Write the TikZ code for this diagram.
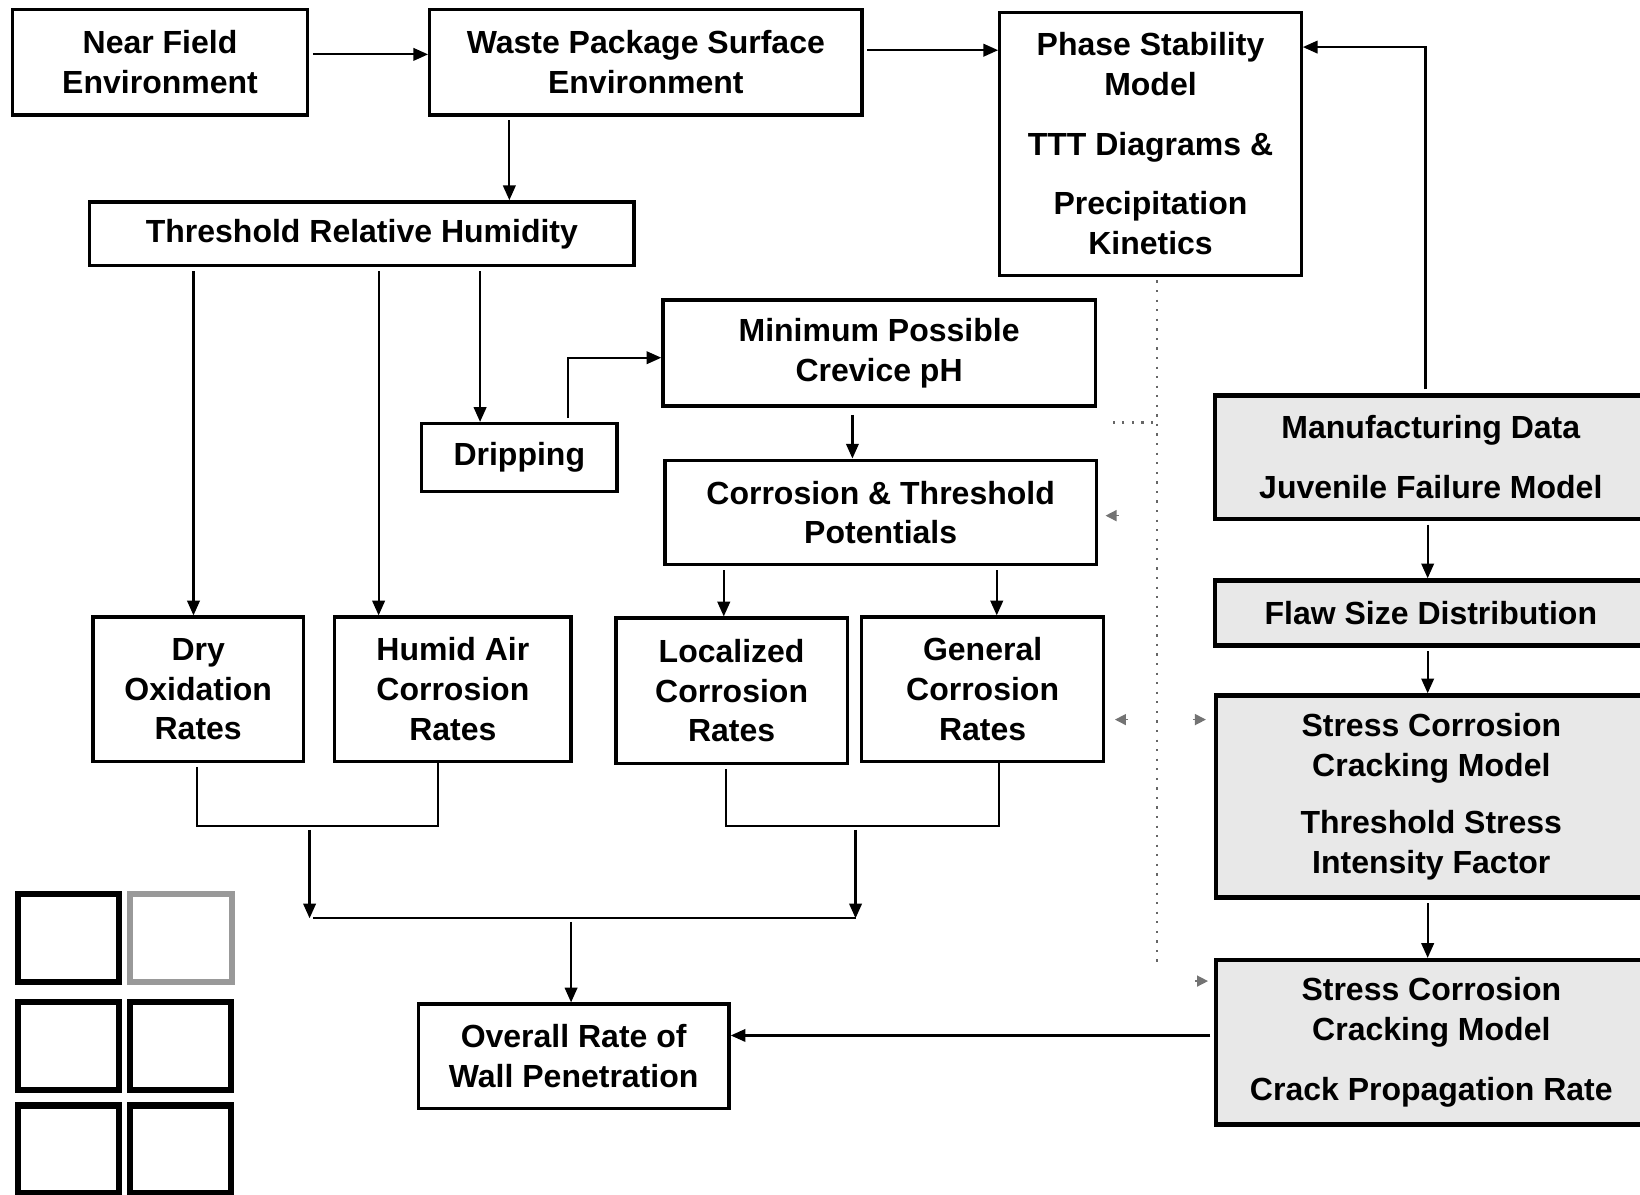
\documentclass[tikz,border=0pt]{standalone}
\usepackage{fontspec}
\setmainfont{Liberation Sans}
\usetikzlibrary{arrows.meta,positioning}

\begin{document}
\begin{tikzpicture}[
    x = 0.01cm, y = -0.01cm, % one unit per pixel, y going down
    > = {Triangle[length=4pt,width=3.4pt]}, % arrow head style
    shorten < = 1pt, % small gap at the start of a link
    semithick % line style
    ]

    \tikzset{box/.style={
    draw = black,
    line width = 0.9pt,
    fill = white,
    inner sep = 0pt,
    align = center,
    font = \fontsize{8.7}{10.8}\selectfont\bfseries
    }}
    \tikzset{shadebox/.style={box, fill = black!9, line width = 1.2pt}}
    \tikzset{legendbox/.style={draw = black, line width = 1.7pt}}

    \useasboundingbox (0,0) rectangle (1568,1142);

    % left and middle part
    \node[box, minimum width=2.82cm, minimum height=1.01cm] (nfe) at (153,59.5) {Near Field\\Environment};
    \node[box, minimum width=4.13cm, minimum height=1.01cm] (wps) at (617.5,59.5) {Waste Package Surface\\Environment};
    \node[box, minimum width=2.88cm, minimum height=2.51cm] (psm) at (1100,137.5) {Phase Stability\\Model\\[5.4pt]TTT Diagrams \&\\[5.4pt]Precipitation\\Kinetics};
    \node[box, minimum width=5.20cm, minimum height=0.61cm] (trh) at (346,223.5) {Threshold Relative Humidity};
    \node[box, minimum width=4.13cm, minimum height=1.01cm] (mpc) at (840.5,337.5) {Minimum Possible\\Crevice pH};
    \node[box, minimum width=1.87cm, minimum height=0.65cm] (drp) at (496.5,437.5) {Dripping};
    \node[box, minimum width=4.12cm, minimum height=1.00cm] (cnt) at (842,490) {Corrosion \& Threshold\\Potentials};
    \node[box, minimum width=2.01cm, minimum height=1.38cm] (dox) at (189.5,659) {Dry\\Oxidation\\Rates};
    \node[box, minimum width=2.26cm, minimum height=1.38cm] (hac) at (433,659) {Humid Air\\Corrosion\\Rates};
    \node[box, minimum width=2.21cm, minimum height=1.39cm] (lcr) at (699.5,660.5) {Localized\\Corrosion\\Rates};
    \node[box, minimum width=2.31cm, minimum height=1.38cm] (gcr) at (939.5,659) {General\\Corrosion\\Rates};
    \node[box, minimum width=2.97cm, minimum height=1.00cm] (orw) at (548.5,1010) {Overall Rate of\\Wall Penetration};

    % right column
    \node[shadebox, minimum width=4.12cm, minimum height=1.18cm] (mfd) at (1368,437) {Manufacturing Data\\[5.4pt]Juvenile Failure Model};
    \node[shadebox, minimum width=4.12cm, minimum height=0.62cm] (fsd) at (1368,586) {Flaw Size Distribution};
    \node[shadebox, minimum width=4.11cm, minimum height=1.93cm] (scc1) at (1368.5,761.5) {Stress Corrosion\\Cracking Model\\[4.8pt]Threshold Stress\\Intensity Factor};
    \node[shadebox, minimum width=4.11cm, minimum height=1.57cm] (scc2) at (1368.5,996.5) {Stress Corrosion\\Cracking Model\\[5.4pt]Crack Propagation Rate};

    \coordinate (ja) at (296,790);
    \coordinate (jb) at (818,790);
    \coordinate (jc) at (546,878);

    \draw[->] (nfe.east |- 0,52) -- (wps.west |- 0,52);
    \draw[->] (wps.east |- 0,48) -- (psm.west |- 0,48);
    \draw[->] (487,0 |- wps.south) -- (487,0 |- trh.north);
    \draw[->] (185,0 |- trh.south) -- (185,0 |- dox.north);
    \draw[->] (362,0 |- trh.south) -- (362,0 |- hac.north);
    \draw[->] (459,0 |- trh.south) -- (459,0 |- drp.north);
    \draw[->] (543,0 |- drp.north) |- (mpc.west |- 0,342);
    \draw[->, shorten <=2pt] (815,0 |- mpc.south) -- (815,0 |- cnt.north);
    \draw[->] (692,0 |- cnt.south) -- (692,0 |- lcr.north);
    \draw[->] (953,0 |- cnt.south) -- (953,0 |- gcr.north);

    % rates merging into the overall rate
    \draw (188,0 |- dox.south) |- (ja) -| (419,0 |- hac.south);
    \draw (694,0 |- lcr.south) |- (jb) -| (955,0 |- gcr.south);
    \draw[->] (ja) -- (ja |- jc);
    \draw[->] (jb) -- (jb |- jc);
    \draw (ja |- jc) -- (jb |- jc);
    \draw[->] (jc) -- (jc |- orw.north);

    \draw[->] (1363,0 |- mfd.north) |- (psm.east |- 0,45);
    \draw[->] (1365,0 |- mfd.south) -- (1365,0 |- fsd.north);
    \draw[->] (1365,0 |- fsd.south) -- (1365,0 |- scc1.north);
    \draw[->] (1365,0 |- scc1.south) -- (1365,0 |- scc2.north);
    \draw[->] (scc2.west |- 0,990) -- (orw.east |- 0,990);

    % faint dotted links from the phase model
    \draw[dotted, black!60] (1106,0 |- psm.south) -- (1106,920);
    \draw[dotted, black!60] (1106,404) -- (1060,404);
    \draw[-{Triangle[length=3pt,width=3pt]}, black!55, thin] (1066,493) -- (1057,493);
    \draw[-{Triangle[length=3pt,width=3pt]}, black!55, thin] (1075,688) -- (1066,688);
    \draw[-{Triangle[length=3pt,width=3pt]}, black!55, thin] (1144,688) -- (1153,688);
    \draw[-{Triangle[length=3pt,width=3pt]}, black!55, thin] (1146,938) -- (1155,938);

    % legend squares
    \foreach \lx/\ly in {17/855, 17/958, 124/958, 17/1057, 124/1057}
        \draw[legendbox] (\lx,\ly) rectangle ++(97,84);
    \draw[legendbox, black!40] (124,855) rectangle ++(98,84);
\end{tikzpicture}
\end{document}
